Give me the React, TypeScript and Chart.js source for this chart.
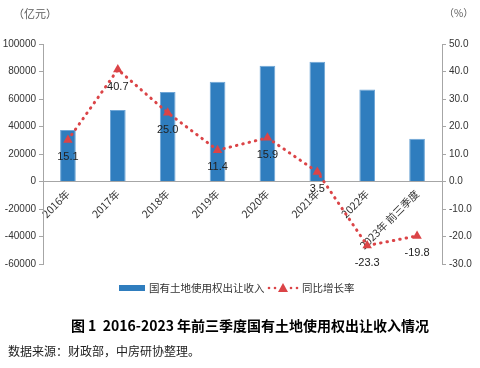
import React, { useEffect, useRef } from "react";
import { Chart, registerables } from "chart.js";

Chart.register(...registerables);

const categories = ["2016年", "2017年", "2018年", "2019年", "2020年", "2021年", "2022年", "2023年 前三季度"];
const revenue = [37457, 52059, 65096, 72517, 84142, 87051, 66854, 31068];
const growth = [15.1, 40.7, 25.0, 11.4, 15.9, 3.5, -23.3, -19.8];
const revenueLabel = "国有土地使用权出让收入";
const growthLabel = "同比增长率";
const leftUnit = "（亿元）";
const rightUnit = "（%）";
const title = "图 1  2016-2023 年前三季度国有土地使用权出让收入情况";
const source = "数据来源：财政部，中房研协整理。";

const BAR_COLOR = "#2F7DBE";
const LINE_COLOR = "#DB4447";
const AXIS_COLOR = "#A6A6A6";
const TEXT_COLOR = "#333333";
const SANS = "'Liberation Sans', 'Noto Sans CJK SC', sans-serif";
const CJK = "'Noto Sans CJK SC', sans-serif";

const labelPlugin = {
  id: "pointLabels",
  afterDatasetsDraw(chart: any) {
    const ctx = chart.ctx;
    const meta = chart.getDatasetMeta(1);
    ctx.save();
    ctx.font = `11px ${SANS}`;
    ctx.fillStyle = "#222222";
    ctx.textAlign = "center";
    ctx.textBaseline = "middle";
    meta.data.forEach((pt: any, i: number) => {
      ctx.fillText(growth[i].toFixed(1), pt.x, pt.y + 17);
    });
    ctx.restore();
  },
};

const legendPlugin = {
  id: "customLegend",
  afterDraw(chart: any) {
    const ctx = chart.ctx;
    const y = 288;
    ctx.save();
    ctx.fillStyle = BAR_COLOR;
    ctx.fillRect(119, y - 3, 26, 6);
    ctx.font = `10.5px ${CJK}`;
    ctx.fillStyle = TEXT_COLOR;
    ctx.textBaseline = "middle";
    ctx.textAlign = "left";
    ctx.fillText(revenueLabel, 149, y);
    ctx.fillStyle = LINE_COLOR;
    [269, 275, 291, 297].forEach((x) => {
      ctx.beginPath();
      ctx.arc(x, y, 1.3, 0, Math.PI * 2);
      ctx.fill();
    });
    ctx.beginPath();
    ctx.moveTo(283, y - 5);
    ctx.lineTo(288, y + 4);
    ctx.lineTo(278, y + 4);
    ctx.closePath();
    ctx.fill();
    ctx.fillStyle = TEXT_COLOR;
    ctx.fillText(growthLabel, 302, y);
    ctx.restore();
  },
};

export default function App() {
  const ref = useRef<HTMLCanvasElement>(null);
  useEffect(() => {
    if (!ref.current) return;
    const chart = new Chart(ref.current, {
      type: "bar",
      data: {
        labels: categories,
        datasets: [
          {
            type: "bar",
            label: revenueLabel,
            data: revenue,
            backgroundColor: BAR_COLOR,
            borderColor: "#6FA6D6",
            borderWidth: 1,
            barPercentage: 0.315,
            categoryPercentage: 1,
            yAxisID: "y",
            order: 2,
          },
          {
            type: "line",
            label: growthLabel,
            data: growth,
            borderColor: LINE_COLOR,
            borderWidth: 3,
            borderDash: [0.5, 6],
            borderCapStyle: "round",
            backgroundColor: LINE_COLOR,
            pointStyle: "triangle",
            pointRadius: 5.5,
            pointBorderWidth: 0,
            pointBackgroundColor: LINE_COLOR,
            tension: 0,
            yAxisID: "y1",
            order: 1,
          } as any,
        ],
      },
      options: {
        responsive: false,
        animation: false,
        layout: { padding: { left: 0, right: 0, top: 44, bottom: 104 } },
        plugins: {
          legend: { display: false },
          tooltip: { enabled: false },
          title: { display: false },
        },
        scales: {
          x: {
            position: { y: 0 } as any,
            grid: { display: false, drawTicks: false },
            border: { display: true, color: AXIS_COLOR, width: 1 },
            ticks: {
              minRotation: 45,
              maxRotation: 45,
              padding: 6,
              color: TEXT_COLOR,
              font: { size: 10.5, family: CJK },
            },
          },
          y: {
            position: "left",
            min: -60000,
            max: 100000,
            ticks: {
              stepSize: 20000,
              color: TEXT_COLOR,
              padding: 3,
              font: { size: 10, family: SANS },
              callback: (v: any) => String(v),
            },
            grid: { drawOnChartArea: false, drawTicks: true, tickLength: 4, color: AXIS_COLOR },
            border: { display: true, color: AXIS_COLOR, width: 1 },
            afterFit: (s: any) => {
              s.width = 43;
            },
          },
          y1: {
            position: "right",
            min: -30,
            max: 50,
            ticks: {
              stepSize: 10,
              color: TEXT_COLOR,
              padding: 3,
              font: { size: 10, family: SANS },
              callback: (v: any) => Number(v).toFixed(1),
            },
            grid: { drawOnChartArea: false, drawTicks: true, tickLength: 4, color: AXIS_COLOR },
            border: { display: true, color: AXIS_COLOR, width: 1 },
            afterFit: (s: any) => {
              s.width = 38;
            },
          },
        },
      },
      plugins: [labelPlugin, legendPlugin],
    });
    return () => chart.destroy();
  }, []);

  return (
    <div style={{ position: "fixed", left: 0, top: 0, width: 480, height: 368, background: "#fff" }}>
      <canvas ref={ref} width={480} height={368} style={{ position: "absolute", left: 0, top: 0, width: 480, height: 368 }} />
      <div style={{ position: "absolute", left: 13, top: 5, font: `11px ${CJK}`, color: "#595959", lineHeight: "16px" }}>{leftUnit}</div>
      <div style={{ position: "absolute", left: 444, top: 5, font: `10px ${CJK}`, color: "#595959", lineHeight: "16px" }}>{rightUnit}</div>
      <div style={{ position: "absolute", left: 0, width: 500, top: 315, textAlign: "center", font: `bold 14px ${CJK}`, color: "#000", lineHeight: "20px", whiteSpace: "pre" }}>{title}</div>
      <div style={{ position: "absolute", left: 8, top: 342, font: `12px ${CJK}`, color: "#222", lineHeight: "18px" }}>{source}</div>
    </div>
  );
}
